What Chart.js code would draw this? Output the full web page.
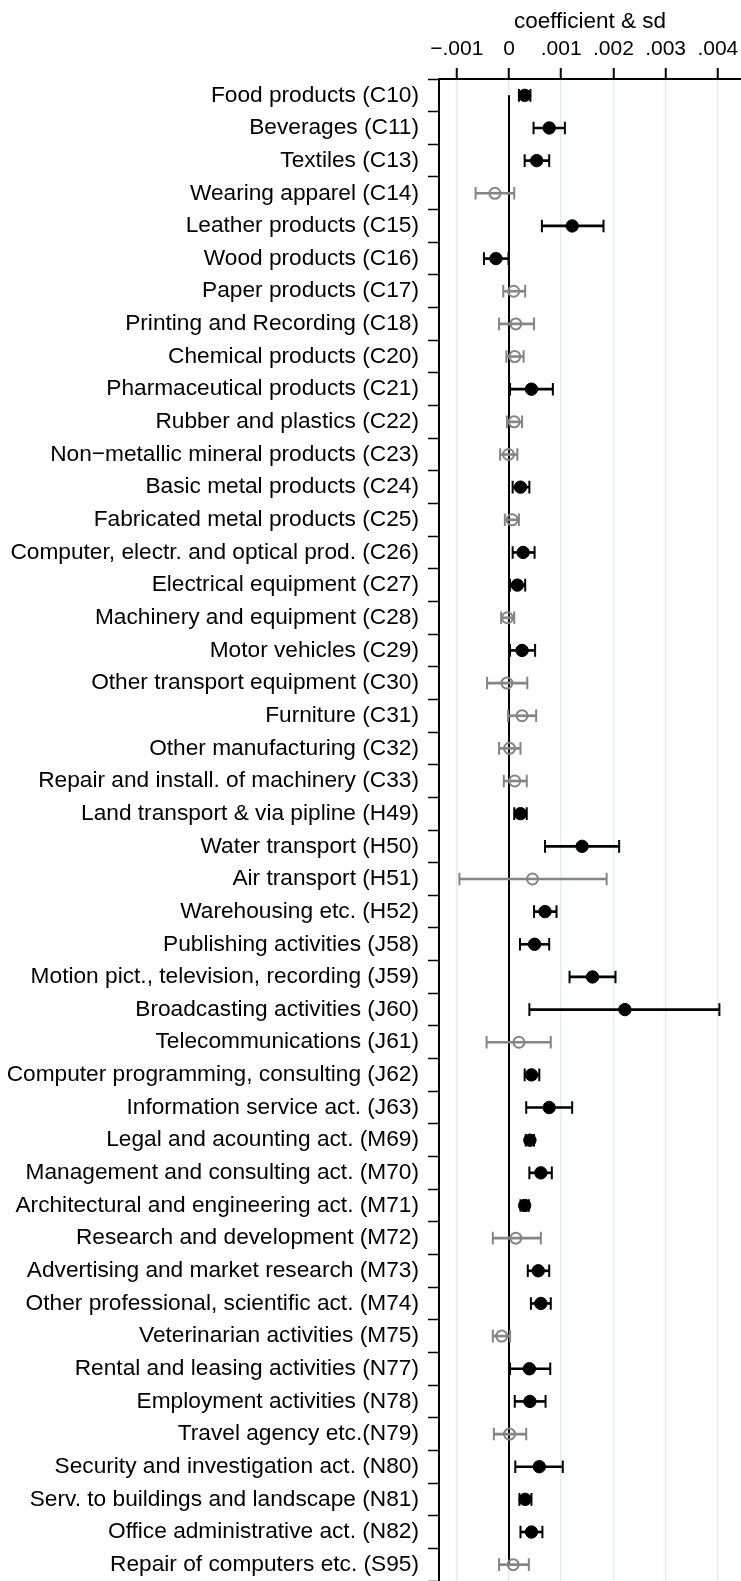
<!DOCTYPE html>
<html>
<head>
<meta charset="utf-8">
<script src="https://cdn.jsdelivr.net/npm/chart.js@4/dist/chart.umd.min.js"></script>
<style>
html, body { margin: 0; padding: 0; background: #fff; }
#wrap { width: 741px; height: 1581px; }
</style>
</head>
<body>
<div id="wrap"><canvas id="grafico" width="741" height="1581"></canvas></div>
<script>
const industrias = [
"Food products (C10)",
"Beverages (C11)",
"Textiles (C13)",
"Wearing apparel (C14)",
"Leather products (C15)",
"Wood products (C16)",
"Paper products (C17)",
"Printing and Recording (C18)",
"Chemical products (C20)",
"Pharmaceutical products (C21)",
"Rubber and plastics (C22)",
"Non\u2212metallic mineral products (C23)",
"Basic metal products (C24)",
"Fabricated metal products (C25)",
"Computer, electr. and optical prod. (C26)",
"Electrical equipment (C27)",
"Machinery and equipment (C28)",
"Motor vehicles (C29)",
"Other transport equipment (C30)",
"Furniture (C31)",
"Other manufacturing (C32)",
"Repair and install. of machinery (C33)",
"Land transport & via pipline (H49)",
"Water transport (H50)",
"Air transport (H51)",
"Warehousing etc. (H52)",
"Publishing activities (J58)",
"Motion pict., television, recording (J59)",
"Broadcasting activities (J60)",
"Telecommunications (J61)",
"Computer programming, consulting (J62)",
"Information service act. (J63)",
"Legal and acounting act. (M69)",
"Management and consulting act. (M70)",
"Architectural and engineering act. (M71)",
"Research and development (M72)",
"Advertising and market research (M73)",
"Other professional, scientific act. (M74)",
"Veterinarian activities (M75)",
"Rental and leasing activities (N77)",
"Employment activities (N78)",
"Travel agency etc.(N79)",
"Security and investigation act. (N80)",
"Serv. to buildings and landscape (N81)",
"Office administrative act. (N82)",
"Repair of computers etc. (S95)"
];

const coef = [
0.00030, 0.00077, 0.00053, -0.00027, 0.00121, -0.00025, 0.00009, 0.00013,
0.00011, 0.00043, 0.00010, -0.00001, 0.00022, 0.00006, 0.00027, 0.00016,
-0.00003, 0.00025, -0.00004, 0.00025, 0.00001, 0.00011, 0.00022, 0.00140,
0.00045, 0.00069, 0.00049, 0.00160, 0.00222, 0.00019, 0.00043, 0.00077,
0.00040, 0.00061, 0.00030, 0.00013, 0.00056, 0.00061, -0.00014, 0.00039,
0.00040, 0.00001, 0.00058, 0.00031, 0.00043, 0.00008
];

const inferior = [
0.00019, 0.00047, 0.00030, -0.00064, 0.00063, -0.00048, -0.00011, -0.00019,
-0.00005, 0.00002, -0.00004, -0.00017, 0.00007, -0.00008, 0.00007, 0.00002,
-0.00015, 0.00002, -0.00042, -0.00002, -0.00019, -0.00010, 0.00010, 0.00069,
-0.00095, 0.00048, 0.00021, 0.00116, 0.00039, -0.00043, 0.00030, 0.00033,
0.00032, 0.00039, 0.00022, -0.00031, 0.00036, 0.00042, -0.00031, 0.00002,
0.00011, -0.00029, 0.00012, 0.00020, 0.00022, -0.00019
];

const superior = [
0.00041, 0.00107, 0.00077, 0.00010, 0.00181, -0.00001, 0.00031, 0.00048,
0.00028, 0.00084, 0.00025, 0.00016, 0.00039, 0.00019, 0.00049, 0.00031,
0.00010, 0.00050, 0.00035, 0.00052, 0.00022, 0.00034, 0.00034, 0.00211,
0.00187, 0.00091, 0.00077, 0.00204, 0.00403, 0.00080, 0.00058, 0.00121,
0.00048, 0.00082, 0.00038, 0.00061, 0.00077, 0.00080, 0.00002, 0.00079,
0.00070, 0.00033, 0.00103, 0.00043, 0.00064, 0.00038
];

const ticksX = [-0.001, 0, 0.001, 0.002, 0.003, 0.004];
const etiquetasX = ["\u2212.001", "0", ".001", ".002", ".003", ".004"];

// significativo si el intervalo no cruza el cero
const signif = inferior.map((lo, i) => lo > 0 || superior[i] < 0);
const colores = signif.map(s => s ? "#000000" : "#858585");
const fuente = "'Liberation Sans', Arial, Helvetica, sans-serif";

const puntos = (vals) => vals.map((v, i) => ({x: v, y: industrias[i]}));

const ctx = document.getElementById("grafico");

new Chart(ctx, {
    type: "bar",
    data: {
        labels: industrias,
        datasets: [
            {
                type: "line",
                data: [{x: 0, y: industrias[0]}, {x: 0, y: industrias[industrias.length - 1]}],
                borderColor: "#000",
                borderWidth: 2,
                pointRadius: 0,
                order: 10
            },
            {
                type: "bar",
                data: inferior.map((lo, i) => [lo, superior[i]]),
                backgroundColor: colores,
                borderWidth: 0,
                barThickness: 2,
                order: 5
            },
            {
                type: "scatter",
                data: puntos(inferior),
                pointStyle: "line",
                rotation: 90,
                pointRadius: 6.3,
                borderWidth: 2,
                borderColor: colores,
                order: 4
            },
            {
                type: "scatter",
                data: puntos(superior),
                pointStyle: "line",
                rotation: 90,
                pointRadius: 6.3,
                borderWidth: 2,
                borderColor: colores,
                order: 4
            },
            {
                type: "scatter",
                data: puntos(coef),
                pointStyle: "circle",
                pointRadius: signif.map(s => s ? 6.2 : 5.5),
                borderWidth: signif.map(s => s ? 1 : 2),
                borderColor: colores,
                backgroundColor: signif.map(s => s ? "#000000" : "rgba(0,0,0,0)"),
                order: 1
            }
        ]
    },
    options: {
        indexAxis: "y",
        responsive: false,
        animation: false,
        layout: { padding: 0, autoPadding: false },
        plugins: {
            legend: { display: false },
            tooltip: { enabled: false }
        },
        scales: {
            x: {
                type: "linear",
                position: "top",
                min: -0.001341,
                max: 0.004444,
                afterFit: (s) => { s.height = 79; s.paddingLeft = 0; s.paddingRight = 0; },
                afterBuildTicks: (s) => { s.ticks = ticksX.map(v => ({value: v})); },
                ticks: {
                    color: "#000",
                    font: { family: fuente, size: 21 },
                    padding: 6,
                    maxRotation: 0,
                    callback: (v, i) => etiquetasX[i]
                },
                grid: {
                    color: "#e3edf0",
                    lineWidth: 1.5,
                    tickColor: "#000",
                    tickWidth: 2,
                    tickLength: 11
                },
                border: { color: "#000", width: 2 },
                title: {
                    display: true,
                    text: "coefficient & sd",
                    color: "#000",
                    font: { family: fuente, size: 22.5 },
                    padding: { top: 8, bottom: 0 }
                }
            },
            y: {
                type: "category",
                offset: true,
                afterFit: (s) => { s.width = 439; s.paddingTop = 0; s.paddingBottom = 0; },
                ticks: {
                    color: "#000",
                    font: { family: fuente, size: 22.7 },
                    padding: 9,
                    autoSkip: false
                },
                grid: {
                    drawOnChartArea: false,
                    tickColor: "#000",
                    tickWidth: 1.5,
                    tickLength: 11
                },
                border: { color: "#000", width: 2 }
            }
        }
    }
});
</script>
</body>
</html>
